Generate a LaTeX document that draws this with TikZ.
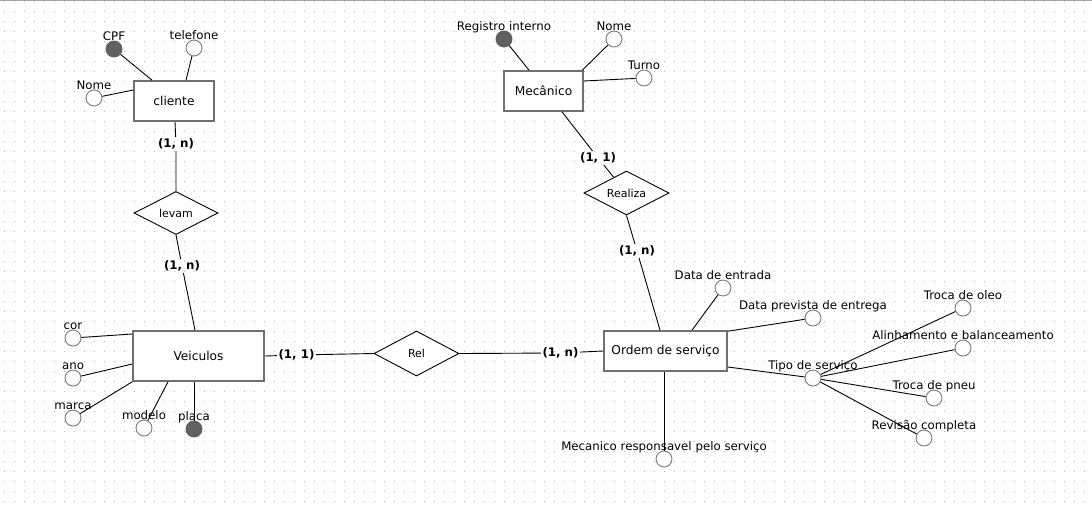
\documentclass[tikz,border=0pt]{standalone}
\usepackage{fontspec}
\setmainfont{DejaVu Sans}
\usetikzlibrary{shapes.geometric}
\definecolor{boxgray}{HTML}{707070}
\definecolor{circgray}{HTML}{7A7A7A}
\definecolor{keygray}{HTML}{606060}
\definecolor{dotgray}{HTML}{B4B4B4}
\begin{document}
\begin{tikzpicture}[x=1pt,y=-1pt,
  ent/.style={draw=boxgray, line width=1.6pt, fill=white, inner sep=0pt, font=\fontsize{12.2}{14}\selectfont},
  attr/.style={circle, draw=circgray, line width=0.9pt, fill=white, minimum size=16pt, inner sep=0pt, label distance=2.5pt},
  keyattr/.style={attr, draw=keygray, fill=keygray},
  albl/.style={font=\fontsize{11.8}{13}\selectfont, inner sep=0pt, text depth=0pt},
  relsh/.style={diamond, aspect=2, draw=black, line width=0.9pt, fill=white, inner sep=0pt, font=\fontsize{11}{12}\selectfont},
  card/.style={font=\bfseries\fontsize{11.8}{13}\selectfont, inner sep=1.5pt},
  conn/.style={line width=0.9pt, draw=black}]
\useasboundingbox (0,0) rectangle (1092,507);
\fill[white] (0,0) rectangle (1092,507);
% dot grid
\foreach \yy in {1,11,...,501}
  \draw[dotgray, line width=1pt, dash pattern=on 1pt off 9pt] (3.5,\yy) -- (1092,\yy);
\draw[gray!70, line width=1pt] (0,0.5) -- (1092,0.5);

% entities
\node[ent, minimum width=80pt, minimum height=40pt] (cliente) at (174,101) {cliente};
\node[ent, minimum width=79pt, minimum height=40pt] (mec) at (543.5,91) {Mecânico};
\node[ent, minimum width=131pt, minimum height=50pt] (veic) at (198.5,356) {Veiculos};
\node[ent, minimum width=123pt, minimum height=40pt] (ordem) at (665.5,351) {Ordem de serviço};

% relationships
\node[relsh, minimum width=84pt, minimum height=43pt] (levam) at (176,213) {levam};
\node[relsh, minimum width=85pt, minimum height=44pt] (realiza) at (626.5,193) {Realiza};
\node[relsh, minimum width=85pt, minimum height=45pt] (rel) at (416.5,353.5) {Rel};

% cardinalities
\node[card] (c1) at (176,144) {(1, n)};
\node[card] (c2) at (182,266) {(1, n)};
\node[card] (c3) at (598,158) {(1, 1)};
\node[card] (c4) at (637,251) {(1, n)};
\node[card] (c5) at (296.5,355) {(1, 1)};
\node[card] (c6) at (560.5,353) {(1, n)};

% attributes
\node[keyattr, label={[albl]above:CPF}] (cpf) at (114,49) {};
\node[attr, label={[albl]above:telefone}] (tel) at (194,48) {};
\node[attr, label={[albl]above:Nome}] (cnome) at (94,98) {};
\node[keyattr, label={[albl]above:Registro interno}] (reg) at (504,39) {};
\node[attr, label={[albl]above:Nome}] (mnome) at (614,39) {};
\node[attr, label={[albl]above:Turno}] (turno) at (644,78) {};
\node[attr, label={[albl]above:cor}] (cor) at (73,338) {};
\node[attr, label={[albl]above:ano}] (ano) at (73,378) {};
\node[attr, label={[albl]above:marca}] (marca) at (73,418) {};
\node[attr, label={[albl]above:modelo}] (modelo) at (144,428) {};
\node[keyattr, label={[albl]above:placa}] (placa) at (194,429) {};
\node[attr, label={[albl]above:Data de entrada}] (dent) at (723,288) {};
\node[attr, label={[albl]above:Data prevista de entrega}] (dprev) at (813,318) {};
\node[attr, label={[albl]above:Tipo de serviço}] (tipo) at (813,378) {};
\node[attr, label={[albl]above:Troca de oleo}] (oleo) at (963,308) {};
\node[attr, label={[albl]above:Alinhamento e balanceamento}] (alin) at (963,348) {};
\node[attr, label={[albl]above:Troca de pneu}] (pneu) at (934,398) {};
\node[attr, label={[albl]above:Revisão completa}] (rev) at (924,438) {};
\node[attr, label={[albl]above:Mecanico responsavel pelo serviço}] (mresp) at (664,459) {};

% relationship connectors
\draw[conn] ([xshift=1pt]cliente.south) -- (c1) -- (levam.north);
\draw[conn] (levam.south) -- (c2) -- ([xshift=-3.5pt]veic.north);
\draw[conn] (veic.east) -- (c5) -- (rel.west);
\draw[conn] (rel.east) -- (c6) -- (ordem.west);
\draw[conn] ([xshift=18.5pt]mec.south) -- (c3) -- (realiza);
\draw[conn] (realiza.south) -- (c4) -- ([xshift=-5.5pt]ordem.north);

% attribute connectors
\draw[conn] (cpf) -- ([xshift=-22pt]cliente.north);
\draw[conn] (tel) -- ([xshift=12pt]cliente.north);
\draw[conn] (cnome) -- ([yshift=11pt]cliente.west);
\draw[conn] (reg) -- ([xshift=-14.5pt]mec.north);
\draw[conn] (mnome) -- ([xshift=-1.5pt]mec.north east);
\draw[conn] (turno) -- ([yshift=10pt]mec.east);
\draw[conn] (cor) -- ([yshift=22pt]veic.west);
\draw[conn] (ano) -- ([yshift=-8pt]veic.west);
\draw[conn] (marca) -- (veic.south west);
\draw[conn] (modelo) -- ([xshift=-30.5pt]veic.south);
\draw[conn] (placa) -- ([xshift=-4.5pt]veic.south);
\draw[conn] (dent) -- ([xshift=26.5pt]ordem.north);
\draw[conn] (dprev) -- ([yshift=-1pt]ordem.north east);
\draw[conn] (tipo) -- ([yshift=-16pt]ordem.east);
\draw[conn] (mresp) -- ([xshift=-1.5pt]ordem.south);
\draw[conn] (tipo) -- (oleo);
\draw[conn] (tipo) -- (alin);
\draw[conn] (tipo) -- (pneu);
\draw[conn] (tipo) -- (rev);
\end{tikzpicture}
\end{document}
